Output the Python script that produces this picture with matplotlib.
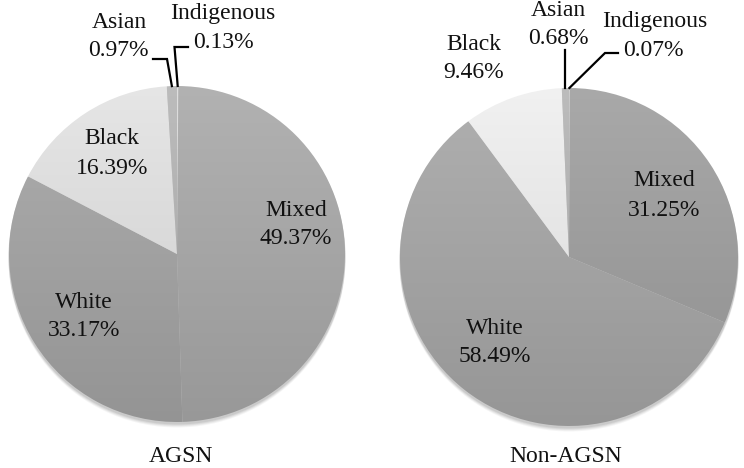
import numpy as np
import matplotlib
matplotlib.use("Agg")
import matplotlib.pyplot as plt
from matplotlib.patches import Circle

# ---- data ----
categories = ["Indigenous", "Mixed", "White", "Black", "Asian"]
agsn_values = [0.13, 49.37, 33.17, 16.39, 0.97]
non_agsn_values = [0.07, 31.25, 58.49, 9.46, 0.68]
titles = ["AGSN", "Non-AGSN"]

# ---- style ----
left_colors = ["#d2d2d2", "#a5a5a5", "#a1a1a1", "#d9d9d9", "#afafaf"]
right_colors = ["#d2d2d2", "#9c9c9c", "#a3a3a3", "#e4e4e4", "#afafaf"]
FONT = "Liberation Serif"
FS = 17

W, H = 744, 468
fig = plt.figure(figsize=(W / 100, H / 100), dpi=100)
ax = fig.add_axes([0, 0, 1, 1])

def Y(y):
    return H - y

def draw_pie(values, colors, cx, cy, r):
    # soft shadow
    for k, a in [(5, 0.04), (4, 0.05), (3, 0.06), (2, 0.07)]:
        ax.add_patch(Circle((cx, Y(cy) - k), r + 0.5, color="black", alpha=a, lw=0, zorder=0))
    wedges, _ = ax.pie(values, colors=colors, startangle=90, counterclock=False,
                       center=(cx, Y(cy)), radius=r, frame=True,
                       wedgeprops=dict(linewidth=0))
    # vertical shading gradient clipped to each wedge
    grad = np.linspace(1.0, 0.0, 256).reshape(-1, 1)
    for w, c in zip(wedges, colors):
        rgb = np.array(matplotlib.colors.to_rgb(c))
        img = np.zeros((256, 1, 4))
        shade = 0.10 * (grad - 0.5)
        img[..., :3] = np.clip(rgb + shade[..., None] * np.ones(3), 0, 1)
        img[..., 3] = 1
        im = ax.imshow(img, extent=(cx - r, cx + r, Y(cy) - r, Y(cy) + r),
                       origin="upper", aspect="auto", zorder=1.5, interpolation="bilinear")
        im.set_clip_path(w)
        w.set_zorder(1.6)
        w.set_facecolor("none")
    return wedges

def top_point(w):
    th = np.deg2rad((w.theta1 + w.theta2) / 2)
    return (w.center[0] + w.r * np.cos(th), w.center[1] + w.r * np.sin(th))

def txt(x, y, s):
    ax.text(x, Y(y), s, ha="center", va="center", fontsize=FS, family=FONT,
            color="#111111", zorder=5)

# left pie
lw = draw_pie(agsn_values, left_colors, 177, 254, 168)
txt(223, 14, "Indigenous"); txt(223, 42, f"{agsn_values[0]:.2f}%")
txt(119, 22, "Asian"); txt(118, 51, f"{agsn_values[4]:.2f}%")
txt(112, 139, "Black"); txt(112, 168, f"{agsn_values[3]:.2f}%")
txt(296, 210, "Mixed"); txt(296, 239, f"{agsn_values[1]:.2f}%")
txt(84, 302, "White"); txt(84, 331, f"{agsn_values[2]:.2f}%")
txt(181, 457, titles[0])
# leader lines (left)
px, py = top_point(lw[4])
ax.plot([153, 167, px], [Y(59), Y(59), py], color="black", lw=1.6, zorder=6, solid_joinstyle="miter")
px, py = top_point(lw[0])
ax.plot([188, 174.5, px], [Y(47), Y(47), py], color="black", lw=1.6, zorder=6, solid_joinstyle="miter")

# right pie
rw = draw_pie(non_agsn_values, right_colors, 569, 257, 169)
txt(558, 10, "Asian"); txt(558, 38, f"{non_agsn_values[4]:.2f}%")
txt(655, 22, "Indigenous"); txt(653, 50, f"{non_agsn_values[0]:.2f}%")
txt(474, 44, "Black"); txt(474, 73, f"{non_agsn_values[3]:.2f}%")
txt(664, 181, "Mixed"); txt(664, 210, f"{non_agsn_values[1]:.2f}%")
txt(495, 328, "White"); txt(495, 357, f"{non_agsn_values[2]:.2f}%")
txt(566, 457, titles[1])
px, py = top_point(rw[4])
ax.plot([px, px], [Y(50), py], color="black", lw=1.6, zorder=6)
px, py = top_point(rw[0])
ax.plot([618, 605, px], [Y(53), Y(53), py], color="black", lw=1.6, zorder=6, solid_joinstyle="miter")

ax.set_xlim(0, W)
ax.set_ylim(0, H)
ax.set_aspect("auto")
ax.axis("off")
fig.savefig("out.png", dpi=100, facecolor="white")
